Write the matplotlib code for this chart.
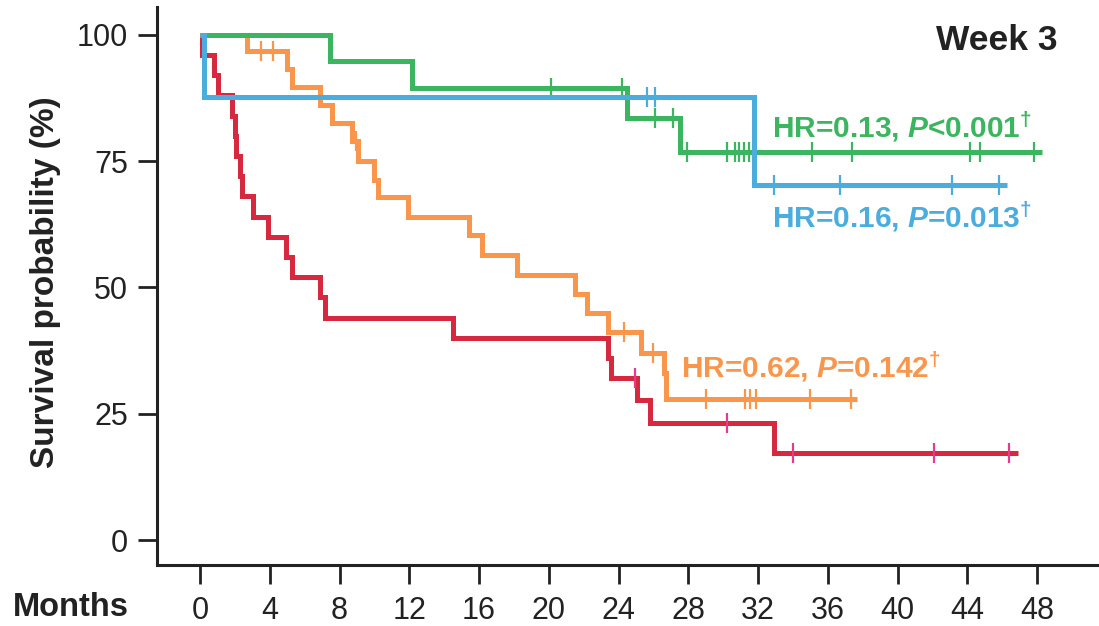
import numpy as np
import matplotlib
matplotlib.use("Agg")
import matplotlib.pyplot as plt

plt.rcParams['font.family'] = ['Liberation Sans', 'DejaVu Sans']
plt.rcParams['mathtext.fontset'] = 'custom'
plt.rcParams['mathtext.rm'] = 'Liberation Sans:bold'
plt.rcParams['mathtext.it'] = 'Liberation Sans:bold:italic'
plt.rcParams['mathtext.bf'] = 'Liberation Sans:bold'

# Kaplan-Meier step data (time in months, survival in %)
red_t = [0, 0.1, 0.8, 1.0, 1.8, 2.0, 2.05, 2.3, 2.4, 3.05, 3.9, 4.95, 5.25, 6.9, 7.15,
         14.5, 23.4, 23.55, 25.05, 25.8, 32.9]
red_s = [100, 96, 92, 88, 84, 80, 76, 72, 68, 64, 60, 56, 52, 48, 44,
         40, 36, 32, 27.7, 23.2, 17.3]
red_end = 46.9
red_cens = [24.95, 30.2, 34.0, 42.1, 46.4]

orange_t = [0, 2.7, 5.0, 5.25, 6.9, 7.55, 8.7, 9.05, 9.95, 10.2, 11.95, 15.4, 16.15,
            18.15, 21.5, 22.2, 23.4, 25.3, 26.6, 26.7]
orange_s = [100, 96.7, 93.2, 89.6, 86.1, 82.5, 78.9, 75.0, 71.3, 67.8, 64.0, 60.3, 56.4,
            52.5, 48.7, 45.0, 41.2, 37.1, 33.0, 28.0]
orange_end = 37.7
orange_cens = [3.5, 4.2, 8.95, 24.3, 26.0, 29.0, 31.25, 31.55, 31.9, 35.0, 37.3]

green_t = [0, 7.45, 12.15, 24.5, 27.5]
green_s = [100, 94.7, 89.4, 83.5, 76.8]
green_end = 48.3
green_cens = [20.1, 24.2, 26.1, 27.1, 27.9, 30.2, 30.7, 30.9, 31.2, 31.45,
              35.1, 37.4, 44.15, 44.7, 47.8]

blue_t = [0, 0.25, 31.75]
blue_s = [100, 87.6, 70.2]
blue_end = 46.3
blue_cens = [25.6, 26.1, 32.9, 36.7, 43.1, 45.8]

x_ticks = np.arange(0, 49, 4)
y_ticks = [0, 25, 50, 75, 100]

red = '#d6283f'
red_mark = '#e8398a'
orange = '#f9964c'
green = '#3bb55f'
blue = '#4badde'


def km_line(ax, times, surv, end, cens, color, mcolor):
    times = np.array(times)
    surv = np.array(surv)
    x = np.append(times, end)
    y = np.append(surv, surv[-1])
    ax.step(x, y, where='post', color=color, lw=3.6, solid_capstyle='butt',
            solid_joinstyle='miter')
    idx = np.searchsorted(times, cens, side='right') - 1
    ax.plot(cens, surv[idx], ls='none', marker='|', ms=14, mew=1.6, color=mcolor)


fig = plt.figure(figsize=(10.99, 6.26), dpi=100)
ax = fig.add_axes([0.1429, 0.0974, 0.8571, 0.8916])

km_line(ax, red_t, red_s, red_end, red_cens, red, red_mark)
km_line(ax, orange_t, orange_s, orange_end, orange_cens, orange, orange)
km_line(ax, green_t, green_s, green_end, green_cens, green, green)
km_line(ax, blue_t, blue_s, blue_end, blue_cens, blue, blue)

ax.set_xlim(-2.47, 51.55)
ax.set_ylim(-4.95, 105.5)
ax.set_xticks(x_ticks)
ax.set_yticks(y_ticks)
ax.tick_params(axis='both', direction='out', length=14, width=2, colors='#222222',
               labelsize=22)
ax.tick_params(axis='x', pad=8)
ax.tick_params(axis='y', pad=7)
for s in ['top', 'right']:
    ax.spines[s].set_visible(False)
for s in ['left', 'bottom']:
    ax.spines[s].set_linewidth(2.2)
    ax.spines[s].set_color('#222222')

# annotations
ax.text(32.8, 81.8, r'HR=0.13, $P$<0.001$^{\dagger}$', color=green, fontsize=21.5,
        fontweight='bold', va='center', ha='left')
ax.text(32.8, 63.9, r'HR=0.16, $P$=0.013$^{\dagger}$', color=blue, fontsize=21.5,
        fontweight='bold', va='center', ha='left')
ax.text(27.6, 34.2, r'HR=0.62, $P$=0.142$^{\dagger}$', color=orange, fontsize=21.5,
        fontweight='bold', va='center', ha='left')

fig.text(0.962, 0.936, 'Week 3', fontsize=25.5, fontweight='bold', color='#222222',
         ha='right', va='center')
fig.text(0.012, 0.029, 'Months', fontsize=23.5, fontweight='bold', color='#222222',
         ha='left', va='center')
fig.text(0.041, 0.55, 'Survival probability (%)', fontsize=24, fontweight='bold',
         color='#222222', rotation=90, ha='center', va='center')

fig.savefig('out.png', dpi=100)
